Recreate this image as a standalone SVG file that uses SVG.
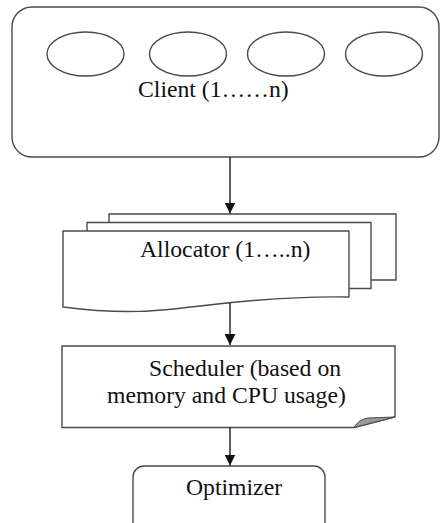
<svg xmlns="http://www.w3.org/2000/svg" width="440" height="523" viewBox="0 0 440 523">
<style>
.shape{fill:#fff;stroke:#4a4a4a;stroke-width:1.4}
.edge{fill:none;stroke:#1a1a1a;stroke-width:1.4}
text{font-family:'Liberation Serif','DejaVu Serif',Times,serif;font-size:23.7px;fill:#111}
</style>
<defs>
<marker id="arr" viewBox="0 0 10 10" refX="10" refY="5" markerWidth="11" markerHeight="11" markerUnits="userSpaceOnUse" orient="auto">
<path d="M0,0 L10,5 L0,10 Z" fill="#111"/>
</marker>
</defs>
<rect width="440" height="523" fill="#fff"/>
<g id="client">
<rect class="shape" x="12" y="7" width="427" height="150" rx="20" ry="20"/>
<ellipse class="shape" cx="85.5" cy="54" rx="38.5" ry="22"/>
<ellipse class="shape" cx="188" cy="54" rx="38.5" ry="22"/>
<ellipse class="shape" cx="286" cy="54" rx="38.5" ry="22"/>
<ellipse class="shape" cx="384" cy="54" rx="38.5" ry="22"/>
<text x="138" y="97">Client (1……n)</text>
</g>
<g id="allocator">
<path class="shape" d="M109,222 V214 H396 V280 H371"/>
<path class="shape" d="M87,231 V222.5 H371 V288.5 H349"/>
<path class="shape" d="M63,231 H349 V297 C300,296 250,300 200,306 C160,311 125,315 63,307 Z"/>
<text x="140" y="257">Allocator (1…..n)</text>
</g>
<g id="scheduler">
<path class="shape" d="M62,346 H395 V417 L354,427.5 H62 Z"/>
<path d="M354,427.5 Q359,419 368,418 L395,417 Z" fill="#9a9a9a" stroke="#4a4a4a" stroke-width="1"/>
<text x="149" y="376">Scheduler (based on</text>
<text x="107" y="402.5">memory and CPU usage)</text>
</g>
<g id="optimizer">
<rect class="shape" x="133" y="466" width="192" height="80" rx="11" ry="11"/>
<text x="186" y="495">Optimizer</text>
</g>
<g id="connectors">
<path class="edge" d="M230,157 V213.5" marker-end="url(#arr)"/>
<path class="edge" d="M230,303 V345" marker-end="url(#arr)"/>
<path class="edge" d="M230,427.5 V465.5" marker-end="url(#arr)"/>
</g>
</svg>
